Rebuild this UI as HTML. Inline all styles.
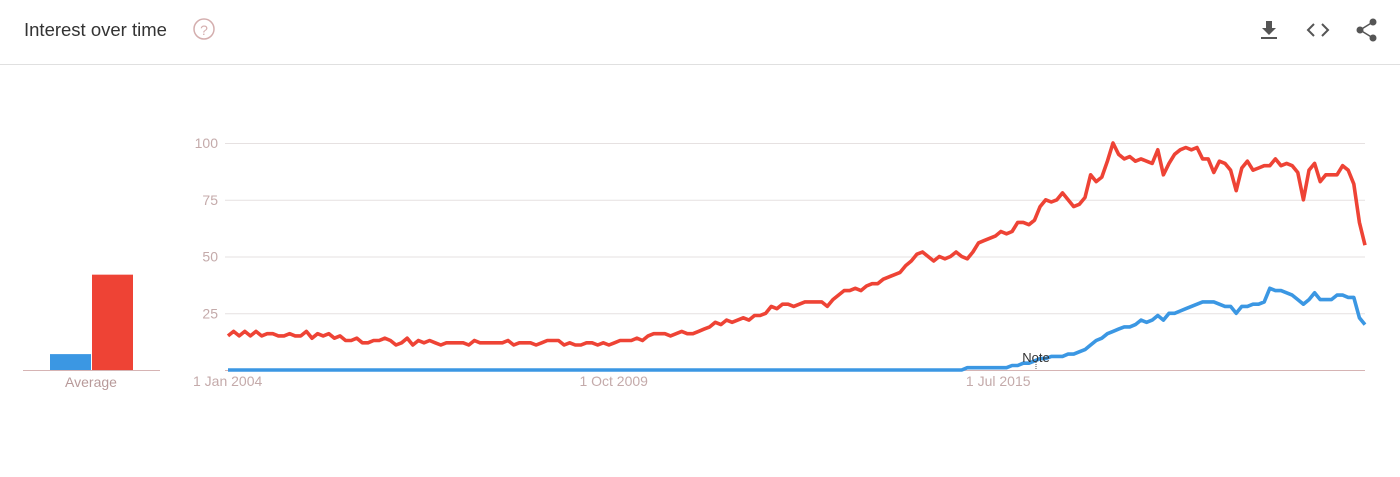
<!DOCTYPE html>
<html><head><meta charset="utf-8"><style>
body{margin:0;background:#fff;width:1400px;height:472px;overflow:hidden;font-family:"Liberation Sans",sans-serif}
</style></head><body>
<svg width="1400" height="472" xmlns="http://www.w3.org/2000/svg">
<text x="24" y="36" font-size="18.5" fill="#333">Interest over time</text>
<g><circle cx="204" cy="29" r="10" fill="none" stroke="#d4aeae" stroke-width="1.5"/><text x="204" y="35" font-size="14" fill="#d4aeae" text-anchor="middle">?</text></g>
<line x1="0" y1="64.5" x2="1400" y2="64.5" stroke="#e0e0e0"/>
<g fill="#555"><rect x="1266" y="21" width="6" height="8"/><polygon points="1262,28 1276,28 1269,35"/><rect x="1261" y="37" width="16" height="2"/></g>
<g fill="none" stroke="#555" stroke-width="2"><polyline points="1314,24 1308,30 1314,36"/><polyline points="1322,24 1328,30 1322,36"/></g>
<g fill="#555"><circle cx="1373" cy="22" r="3.5"/><circle cx="1360" cy="30" r="3.5"/><circle cx="1373" cy="38" r="3.5"/><polyline points="1373,22 1360,30 1373,38" fill="none" stroke="#555" stroke-width="1.5"/></g>
<g id="avg"></g>
<g id="chart"></g>
</svg>
<script>
const yTicks=[0,25,50,75,100];
const xTickIdx=[0,69,138];
const xTickLabels=["1 Jan 2004","1 Oct 2009","1 Jul 2015"];
const avgValues=[7,42];
const red=[15,17,15,17,15,17,15,16,16,15,15,16,
15,15,17,14,16,15,16,14,15,13,13,14,
12,12,13,13,14,13,11,12,14,11,13,12,
13,12,11,12,12,12,12,11,13,12,12,12,
12,12,13,11,12,12,12,11,12,13,13,13,
11,12,11,11,12,12,11,12,11,12,13,13,
13,14,13,15,16,16,16,15,16,17,16,16,
17,18,19,21,20,22,21,22,23,22,24,24,
25,28,27,29,29,28,29,30,30,30,30,28,
31,33,35,35,36,35,37,38,38,40,41,42,
43,46,48,51,52,50,48,50,49,50,52,50,
49,52,56,57,58,59,61,60,61,65,65,64,
66,72,75,74,75,78,75,72,73,76,86,83,
85,92,100,95,93,94,92,93,92,91,97,86,
91,95,97,98,97,98,93,93,87,92,91,88,
79,89,92,88,89,90,90,93,90,91,90,87,
75,88,91,83,86,86,86,90,88,82,65,55];
const blue=[0,0,0,0,0,0,0,0,0,0,0,0,0,0,0,0,0,0,0,0,0,0,0,0,0,0,0,0,0,0,0,0,0,0,0,0,0,0,0,0,0,0,0,0,0,0,0,0,0,0,0,0,0,0,0,0,0,0,0,0,0,0,0,0,0,0,0,0,0,0,0,0,0,0,0,0,0,0,0,0,0,0,0,0,0,0,0,0,0,0,0,0,0,0,0,0,0,0,0,0,0,0,0,0,0,0,0,0,0,0,0,0,0,0,0,0,0,0,0,0,0,0,0,0,0,0,0,0,0,0,0,0,
1,1,1,1,1,1,1,1,2,2,3,3,4,5,5,6,6,6,7,7,8,9,11,13,14,16,17,18,19,19,20,22,21,22,24,22,25,25,26,27,28,29,30,30,30,29,28,28,25,28,28,29,29,30,36,35,35,34,33,31,29,31,34,31,31,31,33,33,32,32,23,20];
const NS="http://www.w3.org/2000/svg";
function mk(t,a,p){const e=document.createElementNS(NS,t);for(const k in a)e.setAttribute(k,a[k]);p.appendChild(e);return e;}
const x0=228,x1=1365,y0=370,y100=143;
const n=red.length;
const xs=i=>x0+(x1-x0)*i/(n-1);
const ys=v=>y0-(y0-y100)*v/100;
const g=document.getElementById('chart');
yTicks.forEach(t=>{
 const l=mk('line',{x1:225,x2:1365,y1:ys(t)+0.5,y2:ys(t)+0.5,stroke:t===0?'#d6b4b4':'#e6e1e1'},g);
 
 
 if(t>0){const tx=mk('text',{x:218,y:ys(t)+5,'font-size':14,fill:'#c4aaaa','text-anchor':'end'},g);tx.textContent=t;
 
 }
});
xTickIdx.forEach((ix,k)=>{
 const tx=mk('text',{x:xs(ix)-35,y:386,'font-size':14,fill:'#c4aaaa'},g);tx.textContent=xTickLabels[k];
 
 
});
function line(arr,col,name){
 const p=mk('polyline',{points:arr.map((v,i)=>xs(i).toFixed(1)+','+ys(v).toFixed(1)).join(' '),fill:'none',stroke:col,'stroke-width':3.6,'stroke-linejoin':'round'},g);
 
 
}
line(blue,'#3b97e3','series-blue');
line(red,'#ee4335','series-red');
const nl=mk('line',{x1:1036,x2:1036,y1:362,y2:370,stroke:'#555','stroke-dasharray':'1,1'},g);


const nt=mk('text',{x:1036,y:362,'font-size':13,fill:'#333','text-anchor':'middle'},g);nt.textContent='Note';


const a=document.getElementById('avg');
const bcol=['#3b97e3','#ee4335'];
avgValues.forEach((v,i)=>{
 const r=mk('rect',{x:50+i*42,y:ys(v),width:41,height:y0-ys(v),fill:bcol[i]},a);
 
 
});
const al=mk('line',{x1:23,x2:160,y1:370.5,y2:370.5,stroke:'#d6b4b4'},a);


const at=mk('text',{x:91,y:387,'font-size':14,fill:'#b89a9a','text-anchor':'middle'},a);at.textContent='Average';


</script>
</body></html>
